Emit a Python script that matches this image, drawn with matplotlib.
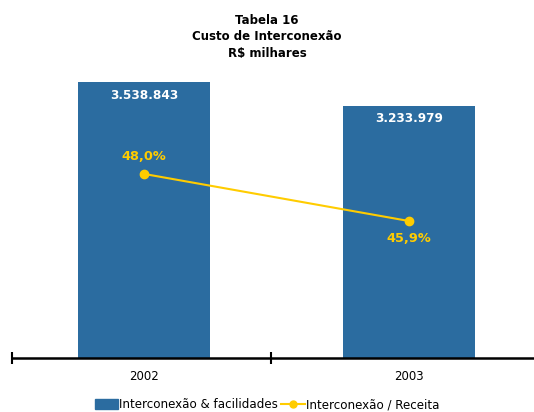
import matplotlib
matplotlib.use("Agg")
import matplotlib.pyplot as plt
from matplotlib.patches import Patch
from matplotlib.lines import Line2D

# data
years = ["2002", "2003"]
custo = [3538843, 3233979]
custo_labels = ["3.538.843", "3.233.979"]
pct = [48.0, 45.9]
pct_labels = ["48,0%", "45,9%"]

bar_color = "#2B6CA0"
line_color = "#FFCC00"

W, H = 534, 412
fig = plt.figure(figsize=(W / 100, H / 100), dpi=100)
plt.rcParams["font.family"] = ["DejaVu Sans"]

left, right, bottom, top = 12, 541, 358, 60
ax = fig.add_axes([left / W, 1 - bottom / H, (right - left) / W, (bottom - top) / H])
x = list(range(len(years)))

ax.bar(x, custo, width=0.5, color=bar_color, zorder=2)
ax.set_xlim(-0.5, 1.5)
ax.set_ylim(0, 3820960)
ax.set_yticks([])
for s in ["top", "right", "left"]:
    ax.spines[s].set_visible(False)
ax.spines["bottom"].set_linewidth(1.8)
ax.set_xticks([-0.5, 0.48, 1.5])
ax.set_xticks(x, minor=True)
ax.set_xticklabels([])
ax.set_xticklabels(years, minor=True, fontsize=8.5)
ax.tick_params(axis="x", which="major", direction="inout", length=9, width=1.5)
ax.tick_params(axis="x", which="minor", length=0, pad=9)

for xi, v, lab in zip(x, custo, custo_labels):
    ax.annotate(lab, (xi, v), xytext=(0, -13), textcoords="offset pixels",
                ha="center", va="center", color="white", fontsize=8.7, fontweight="bold")

ax2 = ax.twinx()
ax2.set_ylim(39.78, 53.09)
ax2.axis("off")
ax2.plot(x, pct, color=line_color, lw=1.5, marker="o", ms=6, zorder=3)
offsets = [17, -18]
for xi, v, lab, off in zip(x, pct, pct_labels, offsets):
    ax2.annotate(lab, (xi, v), xytext=(0, off), textcoords="offset pixels",
                 ha="center", va="center", color=line_color, fontsize=9.3, fontweight="bold")

fig.text(0.5, 1 - 20 / H, "Tabela 16", ha="center", va="center", fontsize=8.5, fontweight="bold")
fig.text(0.5, 1 - 37 / H, "Custo de Interconexão", ha="center", va="center", fontsize=8.5, fontweight="bold")
fig.text(0.5, 1 - 53 / H, "R$ milhares", ha="center", va="center", fontsize=8.5, fontweight="bold")

handles = [Patch(color=bar_color), Line2D([], [], color=line_color, marker="o", ms=5, lw=1.5)]
fig.legend(handles, ["Interconexão & facilidades", "Interconexão / Receita"],
           loc="center", bbox_to_anchor=(0.5, 1 - 405 / H), ncol=2, frameon=False,
           fontsize=8.6, handlelength=2.0, handleheight=0.9, handletextpad=0.05,
           columnspacing=0.3, borderpad=0.2)

fig.savefig("out.png", dpi=100)
